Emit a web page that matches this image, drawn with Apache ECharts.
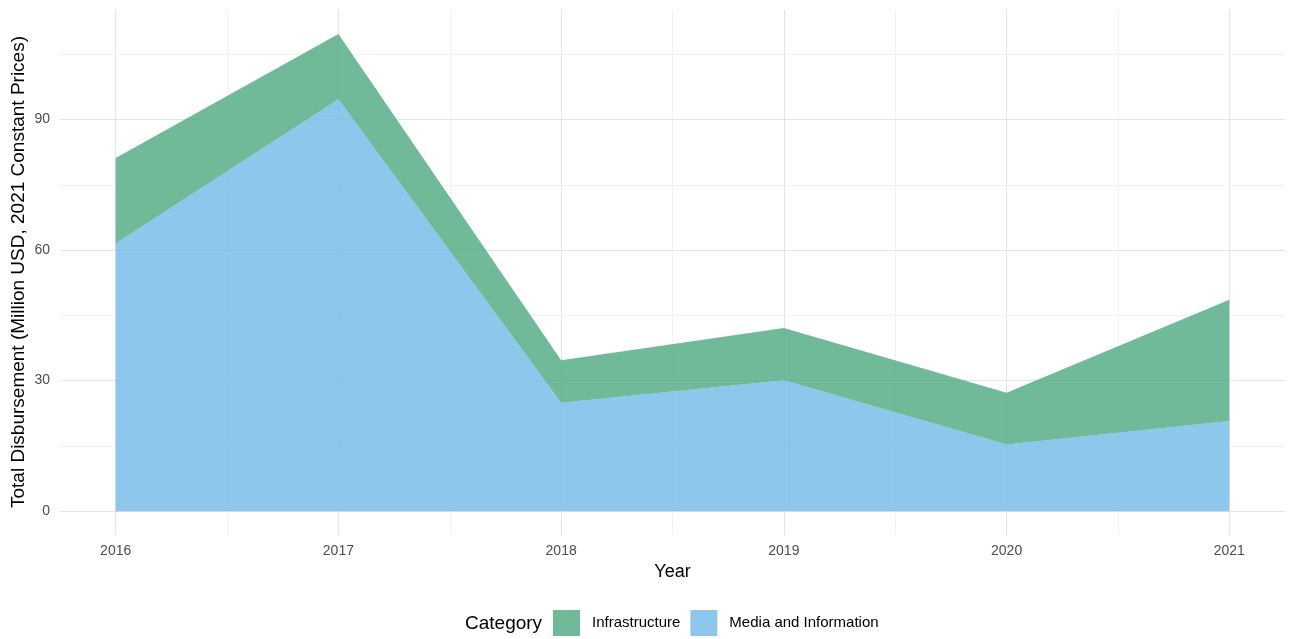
<!DOCTYPE html>
<html>
<head>
<meta charset="utf-8">
<script src="https://cdn.jsdelivr.net/npm/echarts@6/dist/echarts.min.js"></script>
<style>
html,body{margin:0;padding:0;background:#fff;}
#chart{width:1296px;height:639px;}
</style>
</head>
<body>
<div id="chart"></div>
<script>
// Data
const years = [2016, 2017, 2018, 2019, 2020, 2021];
const mediaInfo = [61.5, 94.7, 24.9, 30.1, 15.3, 20.7];
const infrastructure = [19.7, 15.0, 9.8, 12.0, 11.9, 27.9];
const yTicks = [0, 30, 60, 90];
const yMinor = [15, 45, 75, 105];
const xMinor = [2016.5, 2017.5, 2018.5, 2019.5, 2020.5];

const chart = echarts.init(document.getElementById('chart'));

const gridLines = [];
years.forEach(v => gridLines.push({xAxis: v, lineStyle: {color: '#e4e4e4', width: 1.1, type: 'solid'}}));
xMinor.forEach(v => gridLines.push({xAxis: v, lineStyle: {color: '#efefef', width: 0.8, type: 'solid'}}));
yTicks.forEach(v => gridLines.push({yAxis: v, lineStyle: {color: '#e4e4e4', width: 1.1, type: 'solid'}}));
yMinor.forEach(v => gridLines.push({yAxis: v, lineStyle: {color: '#efefef', width: 0.8, type: 'solid'}}));

const font = 'Liberation Sans, Arial, sans-serif';

// value first so the library stacks the value dimension; year mapped to x via encode
const pairs = arr => years.map((y, i) => [arr[i], y]);

chart.setOption({
  animation: false,
  backgroundColor: '#ffffff',
  grid: {left: 60, right: 11, top: 10, bottom: 104, containLabel: false, outerBoundsMode: 'none'},
  xAxis: {
    type: 'value', min: 2015.75, max: 2021.25,
    name: 'Year', nameLocation: 'middle', nameGap: 27,
    nameTextStyle: {fontFamily: font, fontSize: 18, color: '#000'},
    axisLine: {show: false}, axisTick: {show: false}, splitLine: {show: false},
    axisLabel: {customValues: years, formatter: v => String(v), margin: 9,
      fontFamily: font, fontSize: 14, color: '#4d4d4d'}
  },
  yAxis: {
    type: 'value', min: -5.485, max: 115.2,
    axisLine: {show: false}, axisTick: {show: false}, splitLine: {show: false},
    axisLabel: {customValues: yTicks, formatter: v => String(v), margin: 10,
      fontFamily: font, fontSize: 14, color: '#4d4d4d'}
  },
  legend: {
    data: ['Infrastructure', 'Media and Information'],
    left: 548, top: 605,
    icon: 'rect', itemWidth: 27, itemHeight: 26, itemGap: 10,
    textStyle: {fontFamily: font, fontSize: 15, color: '#000', padding: [0, 0, 0, 7]}
  },
  graphic: [{
    type: 'text', x: 465, y: 624,
    style: {text: 'Category', fontFamily: font, fontSize: 19, fill: '#000', verticalAlign: 'middle'}
  }, {
    type: 'text', x: 19, y: 272, rotation: Math.PI / 2,
    style: {text: 'Total Disbursement (Million USD, 2021 Constant Prices)', fontFamily: font,
      fontSize: 19, fill: '#000', align: 'center', verticalAlign: 'middle'}
  }],
  series: [
    {
      name: 'Media and Information', type: 'line', stack: 'total', z: 3,
      data: pairs(mediaInfo), encode: {x: 1, y: 0},
      showSymbol: false, symbol: 'none',
      lineStyle: {width: 0},
      itemStyle: {color: '#8fc6ec'},
      areaStyle: {color: 'rgba(115,184,231,0.8)', opacity: 1}
    },
    {
      name: 'Infrastructure', type: 'line', stack: 'total', z: 3,
      data: pairs(infrastructure), encode: {x: 1, y: 0},
      showSymbol: false, symbol: 'none',
      lineStyle: {width: 0},
      itemStyle: {color: '#70ba9a'},
      areaStyle: {color: 'rgba(76,169,129,0.8)', opacity: 1}
    },
    {
      name: 'gridlines', type: 'line', data: [], silent: true, z: 1,
      markLine: {silent: true, symbol: ['none', 'none'], z: 1, label: {show: false},
        emphasis: {disabled: true}, data: gridLines}
    }
  ]
});
</script>
</body>
</html>
